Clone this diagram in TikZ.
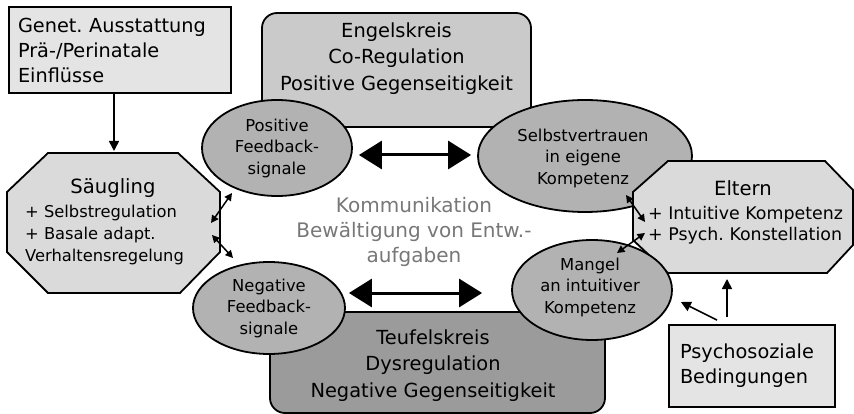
\documentclass[tikz,border=0pt]{standalone}
\usepackage{fontspec}
\setmainfont{DejaVu Sans}
\frenchspacing
\usetikzlibrary{shapes.geometric,arrows.meta,calc}

\definecolor{boxgray}{HTML}{E4E4E4}
\definecolor{octgray}{HTML}{DADADA}
\definecolor{engelgray}{HTML}{CACACA}
\definecolor{ellgray}{HTML}{B2B2B2}
\definecolor{teufelgray}{HTML}{9B9B9B}
\definecolor{kommgray}{HTML}{777777}

\tikzset{
  outline/.style={draw=black, line width=1.8pt},
  infobox/.style={outline, fill=boxgray, rectangle, inner sep=0pt},
  circlebox/.style={outline, rectangle, rounded corners=15pt, inner sep=0pt},
  octagon/.style={outline, fill=octgray, line join=miter},
  ell/.style={outline, fill=ellgray, ellipse, inner sep=0pt, align=center,
    font=\fontsize{16.4}{21.5}\selectfont},
  bigtxt/.style={align=center, font=\fontsize{19.4}{26.5}\selectfont},
  titletxt/.style={font=\fontsize{19.6}{24}\selectfont},
  listtxt/.style={align=left, inner sep=0pt},
  arr/.style={line width=1.6pt, -{Triangle[length=10pt,width=10pt]}},
  smarr/.style={line width=1.5pt, {Triangle[length=7.5pt,width=7.5pt]}-{Triangle[length=7.5pt,width=7.5pt]}},
  bigarr/.style={line width=3pt, {Triangle[length=23pt,width=28pt]}-{Triangle[length=23pt,width=28pt]}},
}

\begin{document}
\begin{tikzpicture}[x=1pt, y=-1pt]
\useasboundingbox (0,0) rectangle (854,414);

% the two circles: virtuous (top) and vicious (bottom)
\node[circlebox, fill=engelgray, minimum width=269pt, minimum height=114pt] (engel) at (396.5,70) {};
\node[bigtxt] (engeltxt) at (396.5,58.5) {Engelskreis\\Co-Regulation\\Positive Gegenseitigkeit};
\node[circlebox, fill=teufelgray, minimum width=335pt, minimum height=101pt] (teufel) at (437.5,362.5) {};
\node[bigtxt] (teufeltxt) at (433,365.5) {Teufelskreis\\Dysregulation\\Negative Gegenseitigkeit};

% infant
\draw[octagon] (48,153) -- (178,153) -- (220,192) -- (220,252) -- (180,293) -- (48,293) -- (7,252) -- (7,192) -- cycle;
\node[titletxt] (saeug) at (113,188) {Säugling};
\node[listtxt, anchor=west, font=\fontsize{16.3}{22}\selectfont] (saeuglist) at (25,235.5)
  {+ Selbstregulation\\+ Basale adapt.\\Verhaltensregelung};

% feedback ellipses on the left
\node[ell, minimum width=150pt, minimum height=96pt] (pos) at (277,148) {Positive\\Feedback-\\signale};
\node[ell, minimum width=152pt, minimum height=92pt] (neg) at (269,308) {Negative\\Feedback-\\signale};

% parents' side
\node[ell, minimum width=214pt, minimum height=112pt] (selbst) at (585,156) {};
\draw[octagon] (668,161) -- (825,161) -- (853,190) -- (853,245) -- (827,273) -- (668,273) -- (633,240) -- (633,192) -- cycle;
\node[ell, draw=none, fill=none] (selbsttxt) at (583,158) {Selbstvertrauen\\in eigene\\Kompetenz};
\node[titletxt] (eltern) at (743,188) {Eltern};
\node[listtxt, anchor=west, font=\fontsize{17.4}{21}\selectfont] (elternlist) at (648,225)
  {+ Intuitive Kompetenz\\+ Psych. Konstellation};
\node[ell, minimum width=160pt, minimum height=100pt] (mangel) at (592,290) {};
\node[ell, draw=none, fill=none] (mangeltxt) at (590,287) {Mangel\\an intuitiver\\Kompetenz};

% outer influences
\node[infobox, minimum width=222pt, minimum height=86pt, text width=204pt, inner xsep=9pt,
  align=left, font=\fontsize{19.3}{25}\selectfont] (genet) at (120,50)
  {Genet. Ausstattung\\Prä-/Perinatale\\Einflüsse};
\node[infobox, minimum width=160pt, minimum height=82pt, text width=144pt, inner xsep=11pt,
  align=left, font=\fontsize{19.3}{25}\selectfont] (psycho) at (752,366)
  {Psychosoziale\\Bedingungen};

% communication in the middle
\node[bigtxt, text=kommgray, font=\fontsize{20}{25}\selectfont] (komm) at (414,232)
  {Kommunikation\\Bewältigung von Entw.-\\aufgaben};

% connectors
\coordinate (sgtop) at (114,151);
\coordinate (elbot) at (727,279);
\coordinate (sgr1) at (211,223);
\coordinate (sgr2) at (212,235);
\coordinate (elr1) at (645,222);
\coordinate (elr2) at (645,233);

\draw[arr] (genet.south -| sgtop) -- (sgtop);
\draw[arr] ($(psycho.north)+(-25,-7)$) -- (elbot);
\draw[arr] ($(psycho.north)+(-35,-4)$) -- ($(mangel.east)+(8,12)$);

\draw[smarr] ($(pos)+(-45,45)$) -- (sgr1);
\draw[smarr] (sgr2) -- ($(neg)+(-36,-50)$);
\draw[smarr] ($(selbst)+(41,39)$) -- (elr1);
\draw[smarr] (elr2) -- ($(mangel)+(25,-37)$);

\draw[bigarr] ($(pos.east)+(6,7)$) -- ($(selbst.west)+(-6,-1)$);
\draw[bigarr] ($(neg.east)+(3,-15)$) -- ($(mangel.west)+(-29,3)$);
\end{tikzpicture}
\end{document}
